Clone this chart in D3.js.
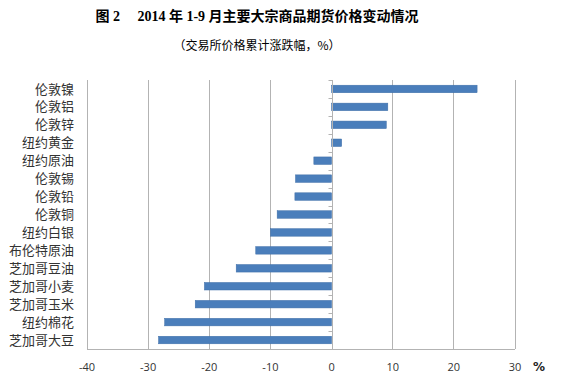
<!DOCTYPE html>
<html><head><meta charset="utf-8">
<script src="https://cdn.jsdelivr.net/npm/d3@7"></script>
<style>body{margin:0;background:#fff}svg{display:block}</style>
</head><body>
<svg id="c" width="561" height="381"></svg>
<script>
const categories = ["伦敦镍","伦敦铝","伦敦锌","纽约黄金","纽约原油","伦敦锡","伦敦铅","伦敦铜","纽约白银","布伦特原油","芝加哥豆油","芝加哥小麦","芝加哥玉米","纽约棉花","芝加哥大豆"];
const values = [23.8, 9.2, 8.95, 1.65, -2.9, -5.9, -6.0, -8.9, -10.0, -12.4, -15.6, -20.8, -22.3, -27.3, -28.3];
const xTicks = [-40, -30, -20, -10, 0, 10, 20, 30];
const title = "图 2　 2014 年 1-9 月主要大宗商品期货价格变动情况";
const subtitle = "（交易所价格累计涨跌幅，%）";

const svg = d3.select("#c");
const L = 87, R = 515, T = 80, B = 349;
const x = d3.scaleLinear().domain([-40, 30]).range([L, R]);
const y = d3.scaleBand().domain(categories).range([T, B]).paddingInner(0.58).paddingOuter(0.29);
const grid = "#b3b3b3";

svg.append("text").attr("x", 257).attr("y", 21).attr("text-anchor", "middle")
  .attr("font-family", "'Liberation Serif','Noto Sans CJK SC'").attr("font-weight", "bold")
  .attr("font-size", 14).attr("fill", "#000").text(title);
svg.append("text").attr("x", 257).attr("y", 50).attr("text-anchor", "middle")
  .attr("font-family", "'Noto Sans CJK SC'").attr("font-size", 12).attr("fill", "#000").text(subtitle);

// gridlines
svg.append("g").selectAll("line").data(xTicks.filter(d => d !== 0)).join("line")
  .attr("x1", d => x(d)).attr("x2", d => x(d)).attr("y1", T).attr("y2", B)
  .attr("stroke", grid).attr("stroke-width", 1).attr("shape-rendering", "crispEdges");
// bottom axis line
svg.append("line").attr("x1", L).attr("x2", R).attr("y1", B).attr("y2", B)
  .attr("stroke", grid).attr("shape-rendering", "crispEdges");

// bars
svg.append("g").selectAll("rect").data(values).join("rect")
  .attr("x", d => x(Math.min(0, d))).attr("width", d => Math.abs(x(d) - x(0)))
  .attr("y", (d, i) => y(categories[i])).attr("height", y.bandwidth())
  .attr("fill", "#4a7ebb").attr("stroke", "#3f6fa8").attr("stroke-width", 0.5);

// zero axis with ticks
const za = svg.append("g").attr("transform", `translate(${Math.round(x(0))+0.5},0)`);
za.append("line").attr("y1", T).attr("y2", B).attr("stroke", grid);
const bounds = d3.range(categories.length + 1).map(i => T + i * (B - T) / categories.length);
za.selectAll("line.t").data(bounds).join("line").attr("class", "t")
  .attr("x1", -4).attr("x2", 0).attr("y1", d => Math.round(d) + 0.5).attr("y2", d => Math.round(d) + 0.5)
  .attr("stroke", grid);

// category labels
svg.append("g").selectAll("text").data(categories).join("text")
  .attr("x", 74).attr("y", d => y(d) + y.bandwidth() / 2).attr("dy", "0.35em")
  .attr("text-anchor", "end").attr("font-family", "'Noto Sans CJK SC'").attr("font-size", 13)
  .attr("fill", "#333").text(d => d);

// x tick labels
svg.append("g").selectAll("text").data(xTicks).join("text")
  .attr("x", d => x(d)).attr("y", 371).attr("text-anchor", "middle")
  .attr("font-family", "'Open Sans','DejaVu Sans'").attr("font-size", 11).attr("fill", "#333")
  .text(d => d);
svg.append("text").attr("x", 539).attr("y", 371).attr("text-anchor", "middle")
  .attr("font-family", "'DejaVu Sans'").attr("font-size", 12).attr("font-weight", "bold")
  .attr("fill", "#222").text("%");
</script>
</body></html>
